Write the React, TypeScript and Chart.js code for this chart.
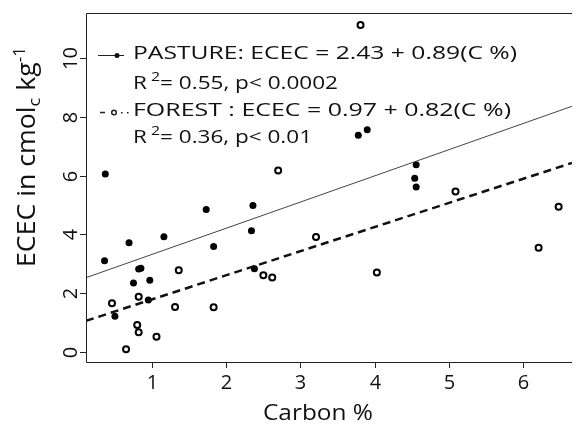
import React, { useEffect, useRef } from "react";
import { Chart, registerables } from "chart.js";

Chart.register(...registerables);

const pastureC = [0.37, 0.36, 0.69, 1.16, 1.73, 2.36, 2.34, 1.83, 0.82, 0.85, 0.75, 0.97, 0.95, 0.5, 2.38, 3.78, 3.9, 4.56, 4.54, 4.56];
const pastureE = [6.05, 3.1, 3.72, 3.92, 4.85, 4.98, 4.12, 3.59, 2.82, 2.85, 2.35, 2.44, 1.77, 1.22, 2.83, 7.37, 7.56, 6.37, 5.91, 5.61];
const forestC = [2.7, 3.21, 1.36, 2.5, 2.62, 0.46, 0.82, 1.31, 1.83, 0.8, 0.82, 1.06, 0.65, 3.81, 5.09, 6.48, 6.21, 4.03];
const forestE = [6.17, 3.91, 2.78, 2.61, 2.53, 1.66, 1.88, 1.53, 1.52, 0.92, 0.67, 0.52, 0.09, 11.12, 5.46, 4.94, 3.55, 2.7];

const pastureFit = [2.43, 0.89];
const forestFit = [0.97, 0.82];

const xTicks = [1, 2, 3, 4, 5, 6];
const yTicks = [0, 2, 4, 6, 8, 10];
const xRange = [0.11, 6.66];
const yRange = [-0.34, 11.53];

const FONT = '"Open Sans", "DejaVu Sans", sans-serif';

type Part = { t: string; size: number; dy?: number };

function drawRich(ctx: CanvasRenderingContext2D, parts: Part[], target: number) {
  let w = 0;
  for (const p of parts) {
    ctx.font = `${p.size}px ${FONT}`;
    w += ctx.measureText(p.t).width;
  }
  const s = target / w;
  ctx.save();
  ctx.scale(s, 1);
  let x = 0;
  ctx.textAlign = "left";
  ctx.textBaseline = "alphabetic";
  for (const p of parts) {
    ctx.font = `${p.size}px ${FONT}`;
    ctx.fillText(p.t, x, p.dy || 0);
    x += ctx.measureText(p.t).width;
  }
  ctx.restore();
}

const decor = {
  id: "decor",
  afterDraw(chart: any) {
    const ctx: CanvasRenderingContext2D = chart.ctx;
    const { left, top, right, bottom } = chart.chartArea;
    const xs = chart.scales.x;
    const ys = chart.scales.y;
    ctx.save();
    ctx.strokeStyle = "#222";
    ctx.lineWidth = 1;
    ctx.beginPath();
    ctx.moveTo(right, top + 0.5);
    ctx.lineTo(left + 0.5, top + 0.5);
    ctx.lineTo(left + 0.5, bottom + 0.5);
    ctx.lineTo(right, bottom + 0.5);
    ctx.stroke();
    ctx.fillStyle = "#111";
    // x ticks
    for (const t of xTicks) {
      const px = Math.round(xs.getPixelForValue(t)) + 0.5;
      ctx.beginPath();
      ctx.moveTo(px, bottom);
      ctx.lineTo(px, bottom + 6);
      ctx.stroke();
      ctx.font = `20px ${FONT}`;
      ctx.textAlign = "center";
      ctx.textBaseline = "alphabetic";
      ctx.fillText(String(t), px, 389);
    }
    // y ticks
    for (const t of yTicks) {
      const py = Math.round(ys.getPixelForValue(t)) + 0.5;
      ctx.beginPath();
      ctx.moveTo(left - 6, py);
      ctx.lineTo(left, py);
      ctx.stroke();
      ctx.save();
      ctx.translate(77, py);
      ctx.rotate(-Math.PI / 2);
      ctx.font = `20px ${FONT}`;
      ctx.textAlign = "center";
      ctx.textBaseline = "alphabetic";
      ctx.fillText(String(t), 0, 0);
      ctx.restore();
    }
    // x title
    ctx.save();
    ctx.translate(263, 420);
    drawRich(ctx, [{ t: "Carbon %", size: 21 }], 110);
    ctx.restore();
    // y title
    ctx.save();
    ctx.translate(35, 267);
    ctx.rotate(-Math.PI / 2);
    drawRich(
      ctx,
      [
        { t: "ECEC in cmol", size: 25 },
        { t: "c", size: 17, dy: 5 },
        { t: " kg", size: 25 },
        { t: "-1", size: 16, dy: -10 },
      ],
      220
    );
    ctx.restore();
    // legend
    const lines: [number, Part[], number][] = [
      [59, [{ t: "PASTURE: ECEC = 2.43 + 0.89(C %)", size: 18.5 }], 384],
      [89, [{ t: "R", size: 18.5 }, { t: " 2", size: 13, dy: -8 }, { t: "= 0.55, p< 0.0002", size: 18.5 }], 205],
      [116, [{ t: "FOREST : ECEC = 0.97 + 0.82(C %)", size: 18.5 }], 378],
      [143, [{ t: "R", size: 18.5 }, { t: " 2", size: 13, dy: -8 }, { t: "= 0.36, p< 0.01", size: 18.5 }], 179],
    ];
    for (const [y, parts, w] of lines) {
      ctx.save();
      ctx.translate(133, y);
      drawRich(ctx, parts, w);
      ctx.restore();
    }
    // legend symbols
    ctx.strokeStyle = "#222";
    ctx.lineWidth = 1;
    ctx.beginPath();
    ctx.moveTo(98, 55.5);
    ctx.lineTo(124, 55.5);
    ctx.stroke();
    ctx.beginPath();
    ctx.arc(117, 55.5, 2.5, 0, Math.PI * 2);
    ctx.fill();
    ctx.lineWidth = 1.5;
    ctx.beginPath();
    ctx.moveTo(100, 112.5);
    ctx.lineTo(105, 112.5);
    ctx.stroke();
    ctx.beginPath();
    ctx.arc(114, 112.5, 2.3, 0, Math.PI * 2);
    ctx.stroke();
    ctx.fillRect(121, 112, 1.5, 1.5);
    ctx.fillRect(127, 112, 1.5, 1.5);
    ctx.restore();
  },
};

export default function App() {
  const ref = useRef<HTMLCanvasElement | null>(null);
  useEffect(() => {
    if (!ref.current) return;
    const line = (fit: number[]) =>
      xRange.map((x) => ({ x, y: fit[0] + fit[1] * x }));
    const chart = new Chart(ref.current, {
      type: "scatter",
      data: {
        datasets: [
          {
            type: "line",
            data: line(pastureFit),
            borderColor: "#444",
            borderWidth: 1,
            pointRadius: 0,
            fill: false,
          } as any,
          {
            type: "line",
            data: line(forestFit),
            borderColor: "#111",
            borderWidth: 2.5,
            borderDash: [8, 5],
            pointRadius: 0,
            fill: false,
          } as any,
          {
            data: pastureC.map((x, i) => ({ x, y: pastureE[i] })),
            backgroundColor: "#000",
            borderColor: "#000",
            pointRadius: 3.5,
            borderWidth: 0,
          },
          {
            data: forestC.map((x, i) => ({ x, y: forestE[i] })),
            backgroundColor: "#fff",
            borderColor: "#000",
            pointRadius: 3,
            borderWidth: 2,
          },
        ],
      },
      options: {
        animation: false,
        responsive: false,
        layout: { padding: { left: 86, top: 13, right: 0, bottom: 64 } },
        plugins: { legend: { display: false }, tooltip: { enabled: false } },
        scales: {
          x: { type: "linear", display: false, min: xRange[0], max: xRange[1] },
          y: { type: "linear", display: false, min: yRange[0], max: yRange[1] },
        },
      },
      plugins: [decor],
    });
    return () => chart.destroy();
  }, []);
  return (
    <div style={{ position: "fixed", left: 0, top: 0, width: 578, height: 426, background: "#fff" }}>
      <canvas ref={ref} width={578} height={426} />
    </div>
  );
}
